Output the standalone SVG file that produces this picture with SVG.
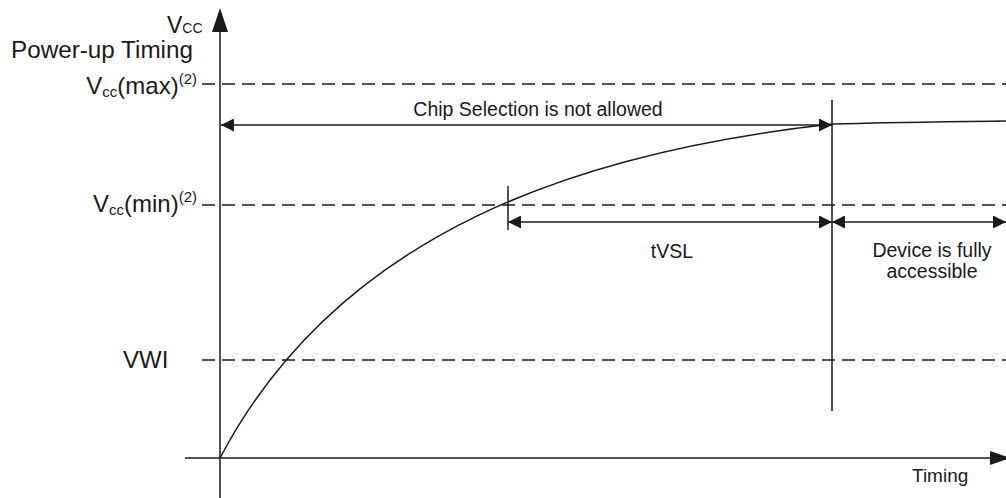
<svg xmlns="http://www.w3.org/2000/svg" width="1006" height="498" viewBox="0 0 1006 498">
  <style>
    text { font-family: "Liberation Sans", Arial, sans-serif; fill: #1a1a1a; }
    .ln { stroke: #1a1a1a; stroke-width: 1.5; fill: none; }
    .dash { stroke: #1a1a1a; stroke-width: 1.5; stroke-dasharray: 13 7; fill: none; }
    .arr { stroke: #1a1a1a; stroke-width: 1.5; fill: none; marker-start: url(#ah); marker-end: url(#ah); }
  </style>
  <defs>
    <marker id="ah" viewBox="0 0 13 13" refX="13" refY="6.5" markerWidth="13" markerHeight="13" markerUnits="userSpaceOnUse" orient="auto-start-reverse">
      <path d="M0,0 L13,6.5 L0,13 z" fill="#1a1a1a"/>
    </marker>
  </defs>
  <rect width="1006" height="498" fill="#ffffff"/>

  <g id="axes">
    <line class="ln" x1="220" y1="30" x2="220" y2="498"/>
    <polygon points="220,8 212,32 228,32" fill="#1a1a1a"/>
    <line class="ln" x1="185" y1="458" x2="992" y2="458"/>
    <polygon points="990,451 1010,458 990,465" fill="#1a1a1a"/>
  </g>

  <g id="levels">
    <line class="dash" x1="202" y1="84" x2="1006" y2="84"/>
    <line class="dash" x1="202" y1="205" x2="1006" y2="205"/>
    <line class="dash" x1="202" y1="360" x2="1006" y2="360"/>
  </g>

  <g id="curve">
    <path class="ln" d="M220,458 C340,230 582,151.5 832,124 C900,122 960,121.5 1006,121"/>
  </g>

  <g id="connectors">
    <line class="ln" x1="832" y1="100" x2="832" y2="411"/>
    <line class="ln" x1="508" y1="186" x2="508" y2="230"/>
    <line class="arr" x1="221" y1="125" x2="832" y2="125"/>
    <line class="arr" x1="508" y1="222" x2="832" y2="222"/>
    <line class="arr" x1="832" y1="222" x2="1006" y2="222"/>
  </g>

  <g id="label-vcc">
    <text x="167" y="33" font-size="23">V<tspan font-size="14">CC</tspan></text>
  </g>
  <g id="label-title">
    <text x="11" y="58" font-size="23" textLength="182" lengthAdjust="spacingAndGlyphs">Power-up Timing</text>
  </g>
  <g id="label-vccmax">
    <text x="197" y="94" text-anchor="end" font-size="24">V<tspan font-size="15" dy="3">cc</tspan><tspan dy="-3">(max)</tspan><tspan font-size="15" dy="-10">(2)</tspan></text>
  </g>
  <g id="label-vccmin">
    <text x="197" y="212" text-anchor="end" font-size="24">V<tspan font-size="15" dy="3">cc</tspan><tspan dy="-3">(min)</tspan><tspan font-size="15" dy="-10">(2)</tspan></text>
  </g>
  <g id="label-vwi">
    <text x="123" y="368" font-size="24">VWI</text>
  </g>
  <g id="label-chip">
    <text x="538" y="116" text-anchor="middle" font-size="19.5">Chip Selection is not allowed</text>
  </g>
  <g id="label-tvsl">
    <text x="672" y="258" text-anchor="middle" font-size="19.5">tVSL</text>
  </g>
  <g id="label-device">
    <text x="932" y="257" text-anchor="middle" font-size="19.5">Device is fully</text>
    <text x="932" y="278" text-anchor="middle" font-size="19.5">accessible</text>
  </g>
  <g id="label-timing">
    <text x="912" y="482" font-size="19">Timing</text>
  </g>
</svg>
